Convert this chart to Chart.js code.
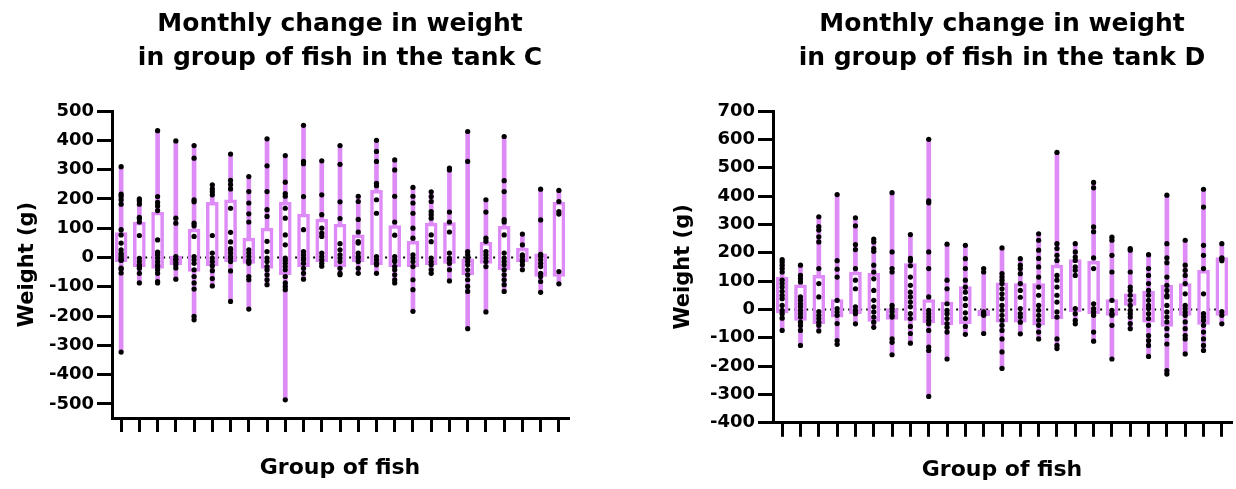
<!DOCTYPE html>
<html>
<head>
<meta charset="utf-8">
<script src="https://cdn.jsdelivr.net/npm/chart.js@4.4.0/dist/chart.umd.min.js"></script>
<style>
  html, body { margin: 0; padding: 0; background: #fff; }
  body { width: 1236px; height: 489px; position: relative; overflow: hidden; }
  #tankC { position: absolute; left: 0; top: 0; }
  #tankD { position: absolute; left: 660px; top: 0; }
</style>
</head>
<body>
<canvas id="tankC" width="640" height="489"></canvas>
<canvas id="tankD" width="576" height="489"></canvas>
<script>
// groups of fish (no labels printed on the axis)
const groups = ['1', '2', '3', '4', '5', '6', '7', '8', '9', '10', '11', '12', '13',
    '14', '15', '16', '17', '18', '19', '20', '21', '22', '23', '24', '25']

// tank C
const cTicks = [-500, -400, -300, -200, -100, 0, 100, 200, 300, 400, 500]
const cMin = [-323, -87, -87, -74, -213, -97, -150, -176, -93, -486, -74, -30, -59, -54, -54, -87, -184, -54, -80, -243, -186, -116, -42, -119, -90]
const cQ1 = [-14, -31, -37, -25, -48, -28, -14, -20, -37, -59, -31, -14, -31, -14, -25, -31, -31, -25, -20, -59, -20, -42, -14, -65, -65]
const cQ3 = [85, 121, 155, 5, 97, 188, 197, 66, 100, 188, 148, 131, 114, 77, 229, 109, 55, 117, 119, -5, 52, 106, 32, 12, 189]
const cMax = [310, 200, 433, 398, 382, 248, 353, 276, 405, 348, 451, 330, 382, 209, 400, 333, 239, 224, 305, 430, 197, 413, 80, 233, 229]
const cPoints = [
    [310, 216, 208, 197, 182, 95, 77, 49, 26, 15, 9, 3, -2, -8, -10, -36, -39, -53, -323],
    [200, 193, 182, 137, 132, 121, 75, -3, -14, -25, -31, -37, -54, -87],
    [433, 208, 188, 176, 160, 60, 18, 9, -2, -14, -25, -31, -42, -54, -82, -87],
    [398, 134, 117, 3, -6, -8, -17, -25, -36, -74],
    [382, 339, 197, 190, 117, 108, 72, 3, -8, -20, -42, -65, -87, -108, -201, -213],
    [248, 234, 224, 214, 75, 15, -2, -14, -28, -45, -72, -97],
    [353, 263, 249, 234, 168, 86, 53, 30, 26, 15, 3, -2, -14, -46, -150],
    [276, 225, 186, 149, 121, 26, 15, 3, -8, -14, -20, -65, -76, -176],
    [405, 313, 225, 163, 140, 55, 20, -2, -14, -31, -42, -59, -76, -93],
    [348, 257, 218, 209, 168, 134, 77, 43, -2, -10, -20, -31, -42, -65, -87, -99, -110, -486],
    [451, 328, 320, 208, 95, 20, 9, -2, -8, -20, -37, -54, -74],
    [330, 214, 146, 100, 83, 72, 15, 3, -8, -20, -30],
    [382, 318, 190, 133, 47, 26, 9, -2, -14, -37, -54, -59],
    [209, 191, 130, 87, 54, 49, 15, 3, -2, -14, -37, -54],
    [400, 362, 328, 253, 245, 197, 151, 3, -8, -20, -25, -54],
    [333, 299, 209, 121, 76, 3, -8, -14, -31, -42, -59, -76, -87],
    [239, 209, 186, 151, 100, 66, 9, -2, -14, -31, -76, -110, -184],
    [224, 208, 191, 157, 146, 134, 77, 54, -2, -14, -25, -42, -54],
    [305, 299, 155, 121, 87, 15, -2, -8, -20, -42, -80],
    [430, 328, 20, 9, -2, -14, -25, -42, -59, -76, -99, -116, -243],
    [197, 155, 66, 55, 20, 9, -2, -14, -31, -186],
    [413, 262, 225, 129, 121, 77, 15, -2, -14, -25, -42, -59, -76, -93, -116],
    [80, 43, 9, 3, -8, -14, -25, -42],
    [233, 128, 11, 3, -8, -20, -31, -54, -65, -82, -119],
    [229, 191, 157, 148, -48, -90]
]

// tank D
const dTicks = [-400, -300, -200, -100, 0, 100, 200, 300, 400, 500, 600, 700]
const dMin = [-74, -127, -76, -123, -51, -63, -160, -119, -307, -175, -88, -85, -208, -86, -104, -138, -51, -112, -175, -68, -166, -228, -157, -145, -51]
const dQ1 = [-12, -39, -50, -27, -15, -42, -35, -39, -47, -55, -50, -22, -45, -45, -56, -33, -8, -15, -21, 14, -45, -60, -21, -53, -21]
const dQ3 = [114, 87, 120, 35, 132, 127, 3, 162, 35, 26, 81, -3, 94, 91, 91, 156, 176, 170, 35, 55, 65, 85, 91, 138, 183]
const dMax = [176, 156, 327, 405, 323, 248, 412, 264, 600, 230, 226, 144, 217, 179, 267, 554, 232, 448, 255, 215, 193, 403, 244, 424, 232]
const dPoints = [
    [176, 167, 156, 144, 132, 103, 91, 79, 64, 50, 38, 14, -3, -15, -31, -74],
    [156, 120, 108, 97, 44, 32, 20, 9, -3, -15, -27, -45, -57, -74, -127],
    [327, 292, 280, 256, 238, 144, 91, 44, -8, -21, -32, -45, -56, -76],
    [405, 172, 142, 114, 32, 3, -9, -21, -50, -110, -123],
    [323, 295, 229, 211, 144, 103, 73, 9, -3, -15, -51],
    [248, 238, 215, 205, 156, 132, 108, 67, 32, 9, -9, -27, -45, -63],
    [412, 203, 144, 132, 14, 3, -9, -21, -27, -104, -116, -160],
    [264, 180, 172, 154, 114, 85, 61, 44, 26, 9, -15, -32, -60, -85, -119],
    [600, 383, 376, 203, 144, 44, -3, -15, -27, -39, -51, -74, -133, -145, -307],
    [230, 103, 73, 20, -3, -15, -32, -50, -63, -80, -175],
    [226, 179, 144, 103, 79, 61, 38, 14, -12, -32, -60, -88],
    [144, 132, -9, -15, -21, -85],
    [217, 126, 114, 103, 91, 73, 55, 38, 14, -3, -21, -38, -56, -74, -104, -150, -208],
    [179, 156, 144, 126, 91, 67, 43, 3, -15, -27, -45, -86],
    [267, 244, 209, 180, 150, 114, 79, 50, 14, -3, -21, -38, -56, -80, -104],
    [554, 232, 215, 191, 173, 120, 103, 79, 50, 26, -9, -27, -104, -127, -138],
    [232, 203, 185, 173, 150, 138, 120, 3, -15, -39, -51],
    [448, 429, 291, 274, 182, 144, 20, 3, -9, -21, -80, -112],
    [255, 244, 191, 132, 32, -3, -15, -21, -56, -175],
    [215, 209, 132, 79, 67, 50, 32, 14, -3, -15, -27, -50, -68],
    [193, 144, 120, 91, 67, 50, 32, 14, 3, -15, -32, -56, -92, -110, -127, -166],
    [403, 232, 182, 165, 114, 85, 67, 50, 44, 14, -9, -27, -44, -68, -92, -122, -216, -228],
    [244, 156, 138, 120, 91, 55, 14, 3, -9, -21, -44, -68, -92, -104, -157],
    [424, 361, 226, 191, 144, 55, -15, -27, -39, -56, -80, -104, -127, -145],
    [232, 182, 179, 172, -8, -21, -51]
]

const violet = '#DE8AF7'
Chart.defaults.font.family = "'DejaVu Sans', sans-serif"
Chart.defaults.font.weight = 'bold'
Chart.defaults.color = '#000'

const makeBoxChart = (id, opts) => {
    const {lo, q1, q3, hi, points, ticks, yMin, yMax, tank, pad, yTitlePad, xTitlePad, axisWidth} = opts

    const whiskers = lo.map((v, i) => [v, hi[i]])
    const boxes = q1.map((v, i) => [v, q3[i]])
    const dots = []
    points.forEach((col, i) => {
        for (const v of col) dots.push({x: groups[i], y: v})
    })

    new Chart(document.getElementById(id), {
        type: 'bar',
        data: {
            labels: groups,
            datasets: [
                {
                    type: 'scatter',
                    data: dots,
                    backgroundColor: '#000',
                    borderWidth: 0,
                    pointRadius: 2.6,
                    order: 0
                },
                {
                    data: boxes,
                    backgroundColor: '#fff',
                    borderColor: violet,
                    borderWidth: 3.5,
                    borderSkipped: false,
                    barThickness: 12,
                    grouped: false,
                    order: 1
                },
                {
                    data: whiskers,
                    backgroundColor: violet,
                    borderWidth: 0,
                    barThickness: 4,
                    grouped: false,
                    order: 2
                },
                {
                    type: 'line',
                    data: groups.map(() => 0),
                    borderColor: '#000',
                    borderWidth: 2,
                    borderDash: [2, 4],
                    pointRadius: 0,
                    order: 3
                }
            ]
        },
        options: {
            responsive: false,
            animation: false,
            layout: {padding: pad},
            plugins: {
                legend: {display: false},
                tooltip: {enabled: false},
                title: {
                    display: true,
                    fullSize: false,
                    text: ['Monthly change in weight', 'in group of fish in the tank ' + tank],
                    font: {size: 25, weight: 'bold', lineHeight: 1.36},
                    color: '#000',
                    padding: {top: 7, bottom: 36}
                }
            },
            scales: {
                x: {
                    offset: true,
                    grid: {
                        display: true,
                        offset: false,
                        drawOnChartArea: false,
                        color: '#000',
                        lineWidth: 3,
                        tickLength: 14
                    },
                    border: {display: true, color: '#000', width: 3},
                    ticks: {display: false},
                    title: {
                        display: true,
                        text: 'Group of fish',
                        font: {size: 22, weight: 'bold'},
                        color: '#000',
                        padding: xTitlePad
                    }
                },
                y: {
                    min: yMin,
                    max: yMax,
                    afterBuildTicks: (scale) => {
                        scale.ticks = ticks.map(v => ({value: v}))
                    },
                    afterFit: (scale) => {
                        scale.width = axisWidth
                    },
                    grid: {
                        drawOnChartArea: false,
                        color: '#000',
                        lineWidth: 3,
                        tickLength: 15
                    },
                    border: {display: true, color: '#000', width: 3},
                    ticks: {
                        font: {size: 18, weight: 'bold'},
                        color: '#000',
                        padding: 3
                    },
                    title: {
                        display: true,
                        text: 'Weight (g)',
                        font: {size: 21, weight: 'bold'},
                        color: '#000',
                        padding: yTitlePad
                    }
                }
            }
        }
    })
}

makeBoxChart('tankC', {
    lo: cMin, q1: cQ1, q3: cQ3, hi: cMax, points: cPoints, ticks: cTicks,
    yMin: -548, yMax: 500, tank: 'C',
    pad: {left: 0, right: 72, top: 0, bottom: 8},
    yTitlePad: {top: 15, bottom: 0},
    xTitlePad: {top: 22.6, bottom: 0},
    axisWidth: 112
})

makeBoxChart('tankD', {
    lo: dMin, q1: dQ1, q3: dQ3, hi: dMax, points: dPoints, ticks: dTicks,
    yMin: -400, yMax: 700, tank: 'D',
    pad: {left: 0, right: 5, top: 0, bottom: 6},
    yTitlePad: {top: 11, bottom: 0},
    xTitlePad: {top: 19.8, bottom: 0},
    axisWidth: 113
})
</script>
</body>
</html>
